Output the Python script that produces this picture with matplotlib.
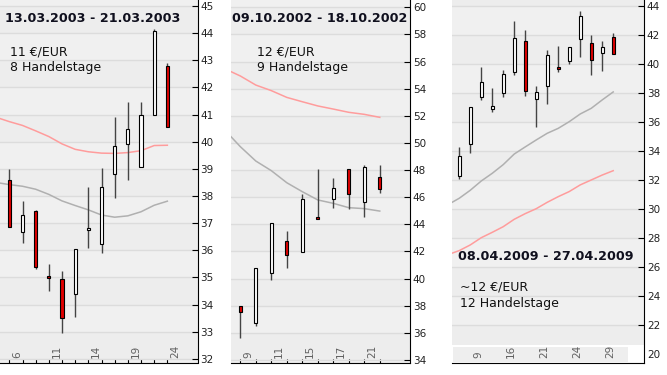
import matplotlib
matplotlib.use("Agg")
import matplotlib.pyplot as plt
import numpy as np
from matplotlib.patches import Rectangle

W, H = 667, 375

# ---------------- data ----------------
# Panel 1: March 2003
p1_days = ["6", "7", "10", "11", "12", "13", "14", "17", "18", "19", "20", "21", "24"]
p1_open = [38.58, 36.66, 37.44, 35.06, 34.93, 34.38, 36.74, 36.22, 38.80, 39.91, 39.08, 40.99, 42.78]
p1_high = [39.00, 37.82, 37.49, 35.50, 35.24, 36.04, 38.33, 39.02, 40.92, 41.46, 41.46, 44.15, 42.91]
p1_low = [36.87, 36.28, 35.33, 34.50, 32.97, 33.56, 36.10, 35.89, 37.94, 38.58, 39.08, 40.99, 40.53]
p1_close = [36.87, 37.29, 35.40, 34.97, 33.52, 36.04, 36.81, 38.32, 39.83, 40.47, 40.97, 44.07, 40.53]
# moving averages, first value belongs to the trading day before the first candle
p1_ma_red = [40.90, 40.74, 40.60, 40.40, 40.19, 39.92, 39.72, 39.63, 39.58, 39.57, 39.60, 39.67, 39.86, 39.87]
p1_ma_gray = [38.50, 38.42, 38.36, 38.25, 38.06, 37.82, 37.65, 37.49, 37.30, 37.22, 37.27, 37.42, 37.66, 37.81]
p1_title = "13.03.2003 - 21.03.2003"
p1_info = ["11 €/EUR", "8 Handelstage"]

# Panel 2: October 2002
p2_days = ["9", "10", "11", "14", "15", "16", "17", "18", "21", "22"]
p2_open = [37.98, 36.75, 40.44, 42.75, 41.94, 44.57, 45.84, 48.06, 45.62, 47.52]
p2_high = [37.98, 40.76, 44.07, 43.53, 46.21, 48.06, 47.42, 48.06, 48.38, 48.38]
p2_low = [35.65, 36.53, 39.90, 40.81, 41.94, 44.37, 45.23, 45.16, 44.57, 46.34]
p2_close = [37.56, 40.76, 44.07, 41.76, 45.84, 44.37, 46.65, 46.21, 48.20, 46.58]
p2_ma_red = [55.47, 54.94, 54.27, 53.86, 53.36, 53.04, 52.73, 52.50, 52.26, 52.11, 51.89]
p2_ma_gray = [50.95, 49.73, 48.67, 47.96, 47.07, 46.41, 45.80, 45.55, 45.23, 45.16, 44.98]
p2_title = "09.10.2002 - 18.10.2002"
p2_info = ["12 €/EUR", "9 Handelstage"]

# Panel 3: April 2009
p3_days = ["8", "9", "14", "15", "16", "17", "20", "21", "22", "23", "24", "27", "28", "29", "30"]
p3_open = [32.30, 34.51, 37.75, 36.92, 38.02, 39.43, 41.56, 37.56, 38.51, 39.79, 40.23, 41.70, 41.45, 40.74, 41.84]
p3_high = [34.30, 37.01, 39.82, 38.34, 39.61, 42.99, 42.34, 38.48, 40.97, 41.26, 41.15, 43.66, 42.02, 41.59, 42.14]
p3_low = [32.07, 33.84, 37.52, 36.69, 37.75, 39.26, 37.79, 35.68, 37.22, 39.47, 39.98, 40.46, 39.26, 39.54, 40.67]
p3_close = [33.66, 37.01, 38.76, 37.08, 39.29, 41.77, 38.11, 38.05, 40.60, 39.63, 41.15, 43.31, 40.30, 41.15, 40.67]
p3_ma_gray = [30.31, 30.74, 31.29, 31.93, 32.46, 33.06, 33.79, 34.28, 34.76, 35.22, 35.56, 36.02, 36.55, 36.94, 37.52, 38.07]
p3_ma_red = [26.86, 27.13, 27.52, 28.02, 28.39, 28.78, 29.29, 29.68, 30.02, 30.46, 30.85, 31.20, 31.66, 32.00, 32.34, 32.64]
p3_title = "08.04.2009 - 27.04.2009"
p3_info = ["~12 €/EUR", "12 Handelstage"]

# ---------------- styling ----------------
BG = "#f0f0f0"
BG2 = "#ededed"
GRID = "#dcdcdc"
RED = "#e00000"
MA_RED = "#ff9c9c"
MA_GRAY = "#b0b0b0"
WICK = "#444444"
TITLE_C = "#10101e"
TEXT_C = "#111111"

fig = plt.figure(figsize=(W / 100, H / 100), dpi=100)
fig.patch.set_facecolor("white")


def px_axes(left, right, top, bottom):
    return fig.add_axes([left / W, 1 - bottom / H, (right - left) / W, (bottom - top) / H])


def panel(ax, days, o, h, l, c, ma_red, ma_gray, xlim, ylim, ystep, label_step, label_start, body_w):
    ax.set_facecolor(BG)
    x = np.arange(len(days))
    # alternating bands
    yt = np.arange(np.ceil(ylim[0]), ylim[1] + 0.001, ystep)
    for k, yv in enumerate(yt):
        if k % 2 == 0:
            ax.axhspan(yv, yv + ystep, color=BG2, zorder=0, lw=0)
    ax.set_xlim(*xlim)
    ax.set_ylim(*ylim)
    ax.set_yticks(yt)
    ax.yaxis.tick_right()
    ax.grid(axis="y", color=GRID, lw=1.0, zorder=0.5)
    ax.set_axisbelow(True)
    # moving averages
    xm = np.arange(-1, len(days))
    ax.plot(xm, ma_red, color=MA_RED, lw=1.1, zorder=2)
    ax.plot(xm, ma_gray, color=MA_GRAY, lw=1.1, zorder=2)
    # candles
    o = np.array(o); c = np.array(c)
    ax.vlines(x, l, h, color=WICK, lw=1.0, zorder=3)
    bottoms = np.minimum(o, c)
    heights = np.maximum(np.abs(c - o), 0.02)
    colors = [RED if cc < oo else "white" for oo, cc in zip(o, c)]
    ax.bar(x, heights, bottom=bottoms, width=body_w, color=colors,
           edgecolor="black", linewidth=0.8, zorder=4)
    # spines / ticks
    for s in ["left", "top"]:
        ax.spines[s].set_visible(False)
    ax.spines["right"].set_color("black")
    ax.spines["bottom"].set_color("black")
    ax.set_xticks(x)
    ax.tick_params(axis="x", direction="in", length=3, color="black", labelbottom=False)
    ax.tick_params(axis="y", direction="in", length=4, pad=2, labelsize=7.5,
                   labelcolor="#222222", color="black")
    ax.yaxis.set_major_formatter(matplotlib.ticker.FormatStrFormatter("%d"))
    for i in range(label_start, len(days), label_step):
        ax.annotate(days[i], xy=(i, ylim[0]), xycoords="data",
                    xytext=(2.0, 3.5), textcoords="offset points",
                    rotation=90, ha="left", va="bottom", fontsize=7.5,
                    color="#606060", annotation_clip=False)


def ftext(xp, yp, s, bold=False, size=9):
    fig.text(xp / W, 1 - yp / H, s, ha="left", va="center", fontsize=size,
             fontweight="bold" if bold else "normal",
             color=TITLE_C if bold else TEXT_C, zorder=10)


ax1 = px_axes(0, 197.5, 0, 363)
panel(ax1, p1_days, p1_open, p1_high, p1_low, p1_close, p1_ma_red, p1_ma_gray,
      (-0.71, 14.29), (31.85, 45.22), 1, 3, 0, 3.3 / 13.17)

ax2 = px_axes(231, 410, 0, 363)
panel(ax2, p2_days, p2_open, p2_high, p2_low, p2_close, p2_ma_red, p2_ma_gray,
      (-0.6, 10.95), (33.78, 60.54), 2, 2, 0, 3.3 / 15.5)

ax3 = px_axes(452, 644, 0, 363)
panel(ax3, p3_days, p3_open, p3_high, p3_low, p3_close, p3_ma_red, p3_ma_gray,
      (-0.66, 16.8), (19.38, 44.41), 2, 3, 1, 3.3 / 11.0)

# white gap at bottom right of panel 3
ax3.add_patch(Rectangle((0, 0), 1, (363 - 344.5) / 363, transform=ax3.transAxes,
                        facecolor="white", edgecolor="none", zorder=1))
ax3.add_patch(Rectangle((0.005, 0.004), (628 - 453) / 192, (363 - 346.5) / 363 - 0.004,
                        transform=ax3.transAxes, facecolor="#eeeeee", edgecolor="none", zorder=1.2))

ftext(5, 18, p1_title, bold=True, size=9.2)
ftext(9.5, 52, p1_info[0])
ftext(9.5, 68, p1_info[1])

ftext(232, 19, p2_title, bold=True, size=9.2)
ftext(257, 52, p2_info[0])
ftext(257, 68, p2_info[1])

ftext(458, 256, p3_title, bold=True, size=9.2)
ftext(460, 287, p3_info[0])
ftext(460, 303, p3_info[1])

fig.savefig("out.png", dpi=100, facecolor="white")
